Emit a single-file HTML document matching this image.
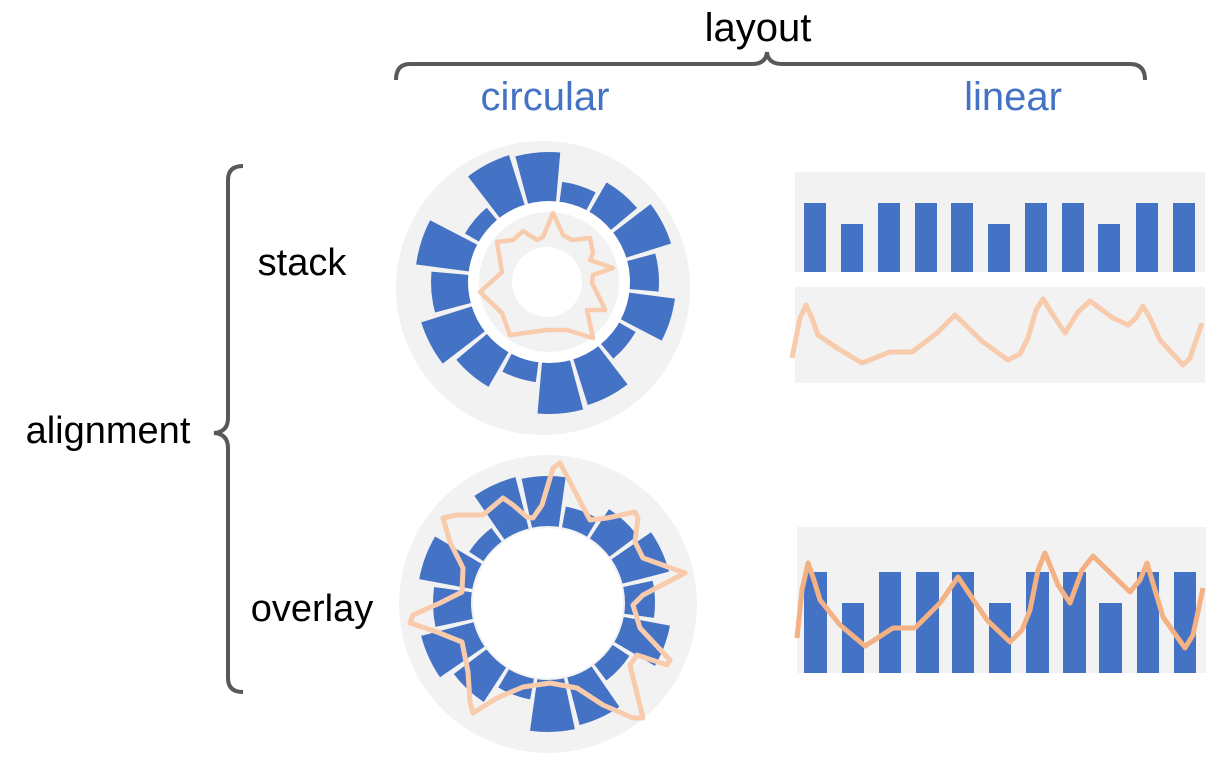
<!DOCTYPE html>
<html><head><meta charset="utf-8"><style>
html,body{margin:0;padding:0;background:#fff;}
svg{display:block;}
text{font-family:"Liberation Sans",Arial,sans-serif;}
</style></head><body>
<svg width="1227" height="761" viewBox="0 0 1227 761" xmlns="http://www.w3.org/2000/svg">
<!-- labels -->
<text x="758" y="41" font-size="40" text-anchor="middle" fill="#000">layout</text>
<text x="545" y="110" font-size="40" text-anchor="middle" fill="#4472c4">circular</text>
<text x="1013" y="110" font-size="40" text-anchor="middle" fill="#4472c4">linear</text>
<text x="302" y="275" font-size="38" text-anchor="middle" fill="#000">stack</text>
<text x="108" y="443" font-size="38" text-anchor="middle" fill="#000">alignment</text>
<text x="312" y="621" font-size="38" text-anchor="middle" fill="#000">overlay</text>
<!-- braces -->
<path d="M396,80 Q396,64 410,64 L752,64 Q766,64 767,52 Q768,64 782,64 L1130,64 Q1145,64 1145,80" fill="none" stroke="#595959" stroke-width="4"/>
<path d="M243,166 Q228,166 228,180 L228,418 Q228,432 214,433 Q228,434 228,448 L228,678 Q228,692 243,692" fill="none" stroke="#595959" stroke-width="4"/>

<!-- top circular -->
<circle cx="543" cy="288" r="147" fill="#f2f2f2"/>
<circle cx="549" cy="282" r="80" fill="#fff"/>
<g transform="translate(549,282)" fill="none" stroke="#4472c4">
<circle r="105" stroke-width="50" stroke-dasharray="36.6 10000" transform="rotate(-105)"/>
<circle r="90.5" stroke-width="21" stroke-dasharray="31.6 10000" transform="rotate(-82.5)"/>
<circle r="97.5" stroke-width="35" stroke-dasharray="34 10000" transform="rotate(-60)"/>
<circle r="104" stroke-width="48" stroke-dasharray="36.3 10000" transform="rotate(-37.5)"/>
<circle r="95" stroke-width="30" stroke-dasharray="33.2 10000" transform="rotate(-15)"/>
<circle r="103.5" stroke-width="47" stroke-dasharray="36.1 10000" transform="rotate(7.5)"/>
<circle r="90" stroke-width="20" stroke-dasharray="31.4 10000" transform="rotate(30)"/>
<circle r="104.5" stroke-width="49" stroke-dasharray="36.5 10000" transform="rotate(52.5)"/>
<circle r="106" stroke-width="52" stroke-dasharray="37 10000" transform="rotate(75)"/>
<circle r="90.5" stroke-width="21" stroke-dasharray="31.6 10000" transform="rotate(97.5)"/>
<circle r="100.5" stroke-width="41" stroke-dasharray="35.1 10000" transform="rotate(120)"/>
<circle r="107" stroke-width="54" stroke-dasharray="37.3 10000" transform="rotate(142.5)"/>
<circle r="99" stroke-width="38" stroke-dasharray="34.6 10000" transform="rotate(165)"/>
<circle r="107" stroke-width="54" stroke-dasharray="37.3 10000" transform="rotate(187.5)"/>
<circle r="88.5" stroke-width="17" stroke-dasharray="30.9 10000" transform="rotate(210)"/>
<circle r="106.5" stroke-width="53" stroke-dasharray="37.2 10000" transform="rotate(232.5)"/>
</g>
<circle cx="549" cy="282" r="76" fill="none" stroke="#fff" stroke-width="10"/>
<circle cx="549" cy="282" r="70" fill="#f2f2f2"/>
<circle cx="547" cy="282" r="35" fill="#fff"/>
<polyline fill="none" stroke="#f8cbad" stroke-width="4.5" stroke-linejoin="round" stroke-linecap="round"
points="553,213 563,235 572,240 590,238 593,253 590,260 613,268 593,275 592,283 603,305 605,310 587,310 593,338 567,330 547,330 510,335 502,313 480,292 490,283 502,272 497,242 513,240 523,231 537,240 543,237 553,213"/>

<!-- bottom circular -->
<circle cx="548" cy="604" r="149" fill="#f2f2f2"/>
<g transform="translate(548,603)" fill="none" stroke="#4472c4">
<circle r="102" stroke-width="50" stroke-dasharray="35.6 10000" transform="rotate(-102)"/>
<circle r="87.5" stroke-width="21" stroke-dasharray="30.5 10000" transform="rotate(-79.5)"/>
<circle r="94.5" stroke-width="35" stroke-dasharray="33 10000" transform="rotate(-57)"/>
<circle r="101" stroke-width="48" stroke-dasharray="35.2 10000" transform="rotate(-34.5)"/>
<circle r="92" stroke-width="30" stroke-dasharray="32.1 10000" transform="rotate(-12)"/>
<circle r="100.5" stroke-width="47" stroke-dasharray="35 10000" transform="rotate(10.5)"/>
<circle r="87" stroke-width="20" stroke-dasharray="30.4 10000" transform="rotate(33)"/>
<circle r="101.5" stroke-width="49" stroke-dasharray="35.4 10000" transform="rotate(55.5)"/>
<circle r="103" stroke-width="52" stroke-dasharray="36 10000" transform="rotate(78)"/>
<circle r="87.5" stroke-width="21" stroke-dasharray="30.5 10000" transform="rotate(100.5)"/>
<circle r="97.5" stroke-width="41" stroke-dasharray="34 10000" transform="rotate(123)"/>
<circle r="104" stroke-width="54" stroke-dasharray="36.3 10000" transform="rotate(145.5)"/>
<circle r="96" stroke-width="38" stroke-dasharray="33.5 10000" transform="rotate(168)"/>
<circle r="104" stroke-width="54" stroke-dasharray="36.3 10000" transform="rotate(190.5)"/>
<circle r="85.5" stroke-width="17" stroke-dasharray="29.8 10000" transform="rotate(213)"/>
<circle r="103.5" stroke-width="53" stroke-dasharray="36.1 10000" transform="rotate(235.5)"/>
</g>
<circle cx="548" cy="603" r="75" fill="#fff"/>
<polyline fill="none" stroke="#f8cbad" stroke-width="5" stroke-linejoin="round" stroke-linecap="round"
points="560,463 570,482 582,505 590,520 607,518 635,512 638,518 635,542 643,558 685,573 643,595 633,605 640,628 670,660 667,665 637,655 630,665 643,718 633,718 603,705 577,688 550,683 523,687 497,698 473,713 470,702 468,672 462,642 437,632 410,623 413,615 440,603 462,592 463,568 450,542 443,518 457,515 483,515 503,498 513,505 527,517 533,518 542,505 553,468 560,463"/>

<!-- linear stack bars -->
<rect x="795" y="172" width="410" height="100" fill="#f2f2f2"/>
<g fill="#4472c4">
<rect x="804" y="203" width="22" height="69"/>
<rect x="841" y="224" width="22" height="48"/>
<rect x="878" y="203" width="22" height="69"/>
<rect x="915" y="203" width="22" height="69"/>
<rect x="951" y="203" width="22" height="69"/>
<rect x="988" y="224" width="22" height="48"/>
<rect x="1025" y="203" width="22" height="69"/>
<rect x="1062" y="203" width="22" height="69"/>
<rect x="1098" y="224" width="22" height="48"/>
<rect x="1136" y="203" width="22" height="69"/>
<rect x="1173" y="203" width="22" height="69"/>
</g>
<rect x="795" y="287" width="410" height="96" fill="#f2f2f2"/>
<polyline fill="none" stroke="#f8cbad" stroke-width="5" stroke-linejoin="round"
points="792,358 800,318 806,305 812,318 818,335 837,348 862,363 890,352 912,352 937,333 955,315 983,342 1008,360 1020,354 1028,338 1036,310 1043,299 1055,318 1065,333 1078,312 1090,301 1113,318 1128,325 1136,318 1143,306 1150,318 1160,340 1183,365 1190,358 1202,323"/>

<!-- linear overlay -->
<rect x="797" y="527" width="409" height="146" fill="#f2f2f2"/>
<g fill="#4472c4">
<rect x="804" y="572" width="23" height="101"/>
<rect x="842" y="603" width="22" height="70"/>
<rect x="879" y="572" width="22" height="101"/>
<rect x="916" y="572" width="23" height="101"/>
<rect x="952" y="572" width="22" height="101"/>
<rect x="989" y="603" width="22" height="70"/>
<rect x="1026" y="572" width="23" height="101"/>
<rect x="1063" y="572" width="23" height="101"/>
<rect x="1099" y="603" width="23" height="70"/>
<rect x="1137" y="572" width="22" height="101"/>
<rect x="1174" y="572" width="22" height="101"/>
</g>
<polyline fill="none" stroke="#f4b183" stroke-width="5" stroke-linejoin="round"
points="797,638 802,590 808,563 814,580 820,600 840,625 865,646 893,628 915,628 940,603 958,577 987,620 1010,642 1022,630 1030,610 1038,570 1045,553 1058,585 1070,603 1082,570 1093,556 1130,592 1140,580 1147,563 1155,590 1163,617 1185,648 1193,635 1203,588"/>
</svg>
</body></html>
